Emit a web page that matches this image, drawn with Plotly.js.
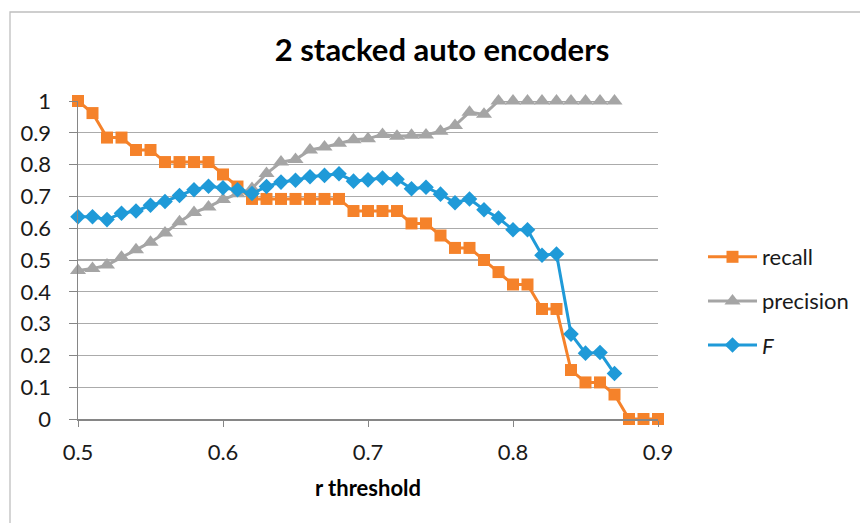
<!DOCTYPE html>
<html>
<head>
<meta charset="utf-8">
<script src="https://cdn.plot.ly/plotly-3.0.1.min.js"></script>
<style>html,body{margin:0;padding:0;background:#fff;}#chart{width:860px;height:523px;}</style>
</head>
<body>
<div id="chart"></div>
<script>
var thresholds = [0.50,0.51,0.52,0.53,0.54,0.55,0.56,0.57,0.58,0.59,0.60,0.61,0.62,0.63,0.64,0.65,0.66,0.67,0.68,0.69,0.70,0.71,0.72,0.73,0.74,0.75,0.76,0.77,0.78,0.79,0.80,0.81,0.82,0.83,0.84,0.85,0.86,0.87,0.88,0.89,0.90];
var recall = [1.0,0.962,0.885,0.885,0.846,0.846,0.808,0.808,0.808,0.808,0.769,0.731,0.692,0.692,0.692,0.692,0.692,0.692,0.692,0.654,0.654,0.654,0.654,0.615,0.615,0.577,0.538,0.538,0.5,0.462,0.423,0.423,0.346,0.346,0.154,0.115,0.115,0.077,0,0,0];
var precision = [0.467,0.473,0.484,0.509,0.532,0.556,0.585,0.62,0.649,0.667,0.69,0.708,0.725,0.772,0.808,0.816,0.846,0.855,0.867,0.878,0.881,0.895,0.889,0.892,0.893,0.905,0.923,0.965,0.958,1.0,1.0,1.0,1.0,1.0,1.0,1.0,1.0,1.0];
var fscore = [0.636,0.636,0.627,0.647,0.654,0.672,0.684,0.703,0.721,0.732,0.727,0.721,0.709,0.731,0.745,0.751,0.762,0.766,0.771,0.748,0.752,0.758,0.754,0.724,0.729,0.707,0.68,0.692,0.658,0.632,0.595,0.595,0.515,0.519,0.267,0.207,0.209,0.143];
var seriesNames = ["recall","precision","<i>F</i>"];
var xTicks = [0.5,0.6,0.7,0.8,0.9];
var xTickText = ["0.5","0.6","0.7","0.8","0.9"];
var yTicks = [0,0.1,0.2,0.3,0.4,0.5,0.6,0.7,0.8,0.9,1];
var yTickText = ["0","0.1","0.2","0.3","0.4","0.5","0.6","0.7","0.8","0.9","1"];

var FONT = "Lato, 'Open Sans', sans-serif";
var traces = [
  {x: thresholds, y: recall, name: seriesNames[0], legendgroup: "a", mode: "lines+markers", cliponaxis: false,
   line: {color: "#F5822A", width: 3}, marker: {symbol: "square", size: 12, color: "#F5822A"}},
  {x: thresholds.slice(0, precision.length), y: precision, name: seriesNames[1], legendgroup: "b", mode: "lines+markers", cliponaxis: false,
   line: {color: "#A5A5A5", width: 3}, marker: {symbol: "triangle-up", size: 14, color: "#A5A5A5"}},
  {x: thresholds.slice(0, fscore.length), y: fscore, name: seriesNames[2], legendgroup: "c", mode: "lines+markers", cliponaxis: false,
   line: {color: "#1F9AD8", width: 3}, marker: {symbol: "diamond", size: 12, color: "#1F9AD8"}}
];

var layout = {
  width: 860, height: 523,
  margin: {l: 78, r: 202, t: 101, b: 104, autoexpand: false},
  paper_bgcolor: "#fff", plot_bgcolor: "#fff",
  font: {family: FONT, size: 22, color: "#1a1a1a"},
  title: {text: "<b>2 stacked auto encoders</b>", font: {family: FONT, size: 31, color: "#000"},
          x: 442/860, xanchor: "center", y: 1 - 50/523, yanchor: "middle"},
  xaxis: {range: [0.5, 0.9], tickvals: xTicks, ticktext: xTickText, showgrid: false, zeroline: false, automargin: false,
          showline: true, linecolor: "#868686", linewidth: 1.5, ticks: "outside", ticklen: 6, tickcolor: "#868686",
          tickfont: {family: FONT, size: 22, color: "#1a1a1a"}, ticklabelstandoff: 7,
          title: {text: "<b>r threshold</b>", font: {family: FONT, size: 22, color: "#000"}, standoff: 16}},
  yaxis: {range: [0, 1], tickvals: yTicks, ticktext: yTickText, showgrid: true, gridcolor: "#ABABAB", gridwidth: 1.3, automargin: false,
          zeroline: false, showline: true, linecolor: "#868686", linewidth: 1.5, ticks: "outside", ticklen: 8, tickcolor: "#868686",
          tickfont: {family: FONT, size: 22, color: "#1a1a1a"}, ticklabelstandoff: 13},
  showlegend: true,
  legend: {x: (703-78)/580, xanchor: "left", y: (419-301)/318, yanchor: "middle", traceorder: "grouped",
           tracegroupgap: 12.5, itemwidth: 49, font: {family: FONT, size: 22, color: "#1a1a1a"}, bgcolor: "rgba(0,0,0,0)"},
  shapes: [{type: "rect", xref: "paper", yref: "paper", x0: (10-78)/580, x1: 1.6, y0: -0.6, y1: (419-12)/318,
            line: {color: "#BFBFBF", width: 1.3}, fillcolor: "rgba(0,0,0,0)", layer: "below"}]
};

Plotly.newPlot("chart", traces, layout, {displayModeBar: false, staticPlot: true});
</script>
</body>
</html>
